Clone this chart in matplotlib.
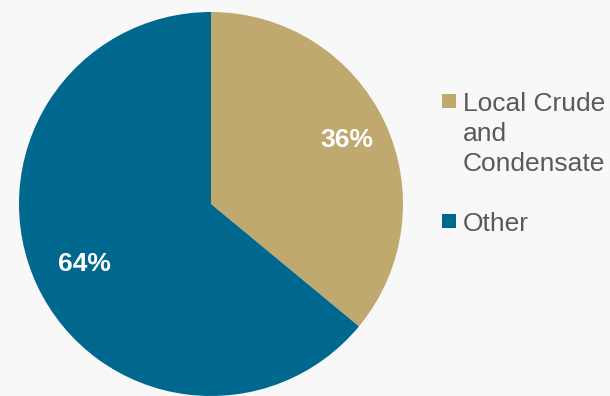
import numpy as np
import matplotlib.pyplot as plt
from matplotlib.patches import Rectangle

plt.rcParams['font.family'] = ['Liberation Sans', 'DejaVu Sans']

labels = ['Local Crude\nand\nCondensate', 'Other']
shares = [36, 64]
colors = ['#bfa96e', '#00678f']
label_dist = [0.78, 0.73]

W, H = 610, 396
fig = plt.figure(figsize=(W / 100, H / 100), dpi=100, facecolor='#f8f8f8')
ax = fig.add_axes([0, 0, 1, 1])
ax.set_facecolor('#f8f8f8')

# axes work in pixel units, y measured upward
cx, cy, r = 211, H - 204, 192
wedges, texts, autotexts = ax.pie(
    shares, colors=colors, startangle=90, counterclock=False,
    center=(cx, cy), radius=r, autopct='%d%%',
    wedgeprops=dict(linewidth=0),
    textprops=dict(color='white', fontsize=19, fontweight='bold'))

# push each percentage label out along its wedge's mid angle
for w, t, d in zip(wedges, autotexts, label_dist):
    ang = np.deg2rad((w.theta1 + w.theta2) / 2)
    t.set_position((cx + d * r * np.cos(ang), cy + d * r * np.sin(ang)))

ax.set_xlim(0, W)
ax.set_ylim(0, H)
ax.set_aspect('equal')
ax.axis('off')

# legend drawn by hand so the swatch sits on the first line of each label
line_step = 30
baseline = H - 111
for lab, col in zip(labels, colors):
    lines = lab.split('\n')
    ax.add_patch(Rectangle((442, baseline + 3), 14, 14, facecolor=col, edgecolor='none'))
    for i, ln in enumerate(lines):
        ax.text(463, baseline - i * line_step, ln, fontsize=19, color='#595959',
                ha='left', va='baseline')
    baseline -= line_step * (len(lines) + 1)

fig.savefig('out.png', dpi=100, facecolor=fig.get_facecolor())
